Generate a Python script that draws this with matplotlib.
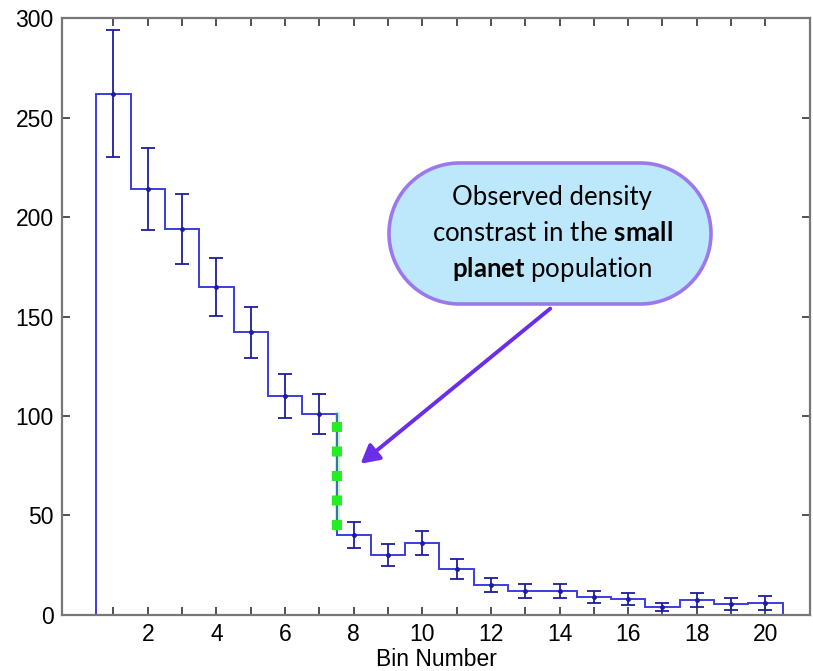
import numpy as np
import matplotlib
matplotlib.use("Agg")
import matplotlib.pyplot as plt
from matplotlib.patches import Polygon
from matplotlib.transforms import IdentityTransform

plt.rcParams['font.family'] = ['Liberation Sans', 'DejaVu Sans']
plt.rcParams['mathtext.fontset'] = 'custom'
plt.rcParams['mathtext.rm'] = 'Lato'
plt.rcParams['mathtext.bf'] = 'Lato:bold'

# counts per bin with their error bars
bins = np.arange(1, 21)
counts = [262, 214, 194, 165, 142, 110, 101, 40, 30, 36,
          23, 15, 12, 12, 9, 8, 4, 7.5, 5.5, 6]
errors = [32, 20.5, 17.5, 14.5, 13, 11, 10, 6.5, 5.5, 6,
          5, 3.7, 3.5, 3.4, 3, 2.8, 2, 3.3, 3, 3.5]
xticks = [2, 4, 6, 8, 10, 12, 14, 16, 18, 20]
yticks = [0, 50, 100, 150, 200, 250, 300]

fig = plt.figure(figsize=(8.13, 6.71), dpi=100)
ax = fig.add_axes([0.0763, 0.0835, 0.92, 0.8895])

edges = np.concatenate([[-0.5], np.arange(0.5, 21.5, 1.0)])
ax.stairs([0] + counts, edges, color='#3c3ce0', lw=1.4, zorder=2)
ax.errorbar(bins, counts, yerr=errors, fmt='.', color='#1e1e9c',
            ms=5, lw=1.3, capsize=5, capthick=1.3, zorder=3)

# highlight the drop between bin 7 and bin 8
ax.plot([7.5, 7.5], [counts[7] + 3, counts[6]], color='#22ee22', lw=3.5,
        alpha=0.3, zorder=4)
ax.plot([7.5, 7.5], [counts[7] + 2.5, counts[6] - 1], color='#22ee22', lw=7.2,
        linestyle=(0, (1.0, 1.45)), solid_capstyle='butt', zorder=4)

ax.set_xlim(-0.5, 21.3)
ax.set_ylim(0, 300)
ax.set_xticks(xticks)
ax.set_xticks(bins, minor=True)
ax.set_yticks(yticks)
ax.tick_params(which='both', direction='in', top=True, right=True,
               length=6, width=1.2, color='#333333', labelsize=16.5, pad=6)
ax.set_xlabel('Bin Number', fontsize=16.5, labelpad=1)
for s in ax.spines.values():
    s.set_color('#777777')
    s.set_linewidth(1.6)

# pill shaped callout, in pixels
x0, x1, yb, yt = 389, 711, 671 - 304, 671 - 163
r = (yt - yb) / 2
t = np.linspace(-np.pi / 2, np.pi / 2, 60)
right = np.column_stack([x1 - r + r * np.cos(t), yb + r + r * np.sin(t)])
left = np.column_stack([x0 + r - r * np.cos(t), yb + r - r * np.sin(t)])
pill = Polygon(np.vstack([right, left]), closed=True,
               transform=IdentityTransform(), facecolor='#bde8fc',
               edgecolor='#9d78ec', lw=2.6, zorder=5)
fig.add_artist(pill)
fig.text(0.679, 0.705, 'Observed density', ha='center', va='center',
         fontsize=18.5, family='Lato', zorder=6)
fig.text(0.679, 0.652, r'constrast in the $\mathbf{small}$', ha='center',
         va='center', fontsize=18.5, family='Lato', zorder=6)
fig.text(0.679, 0.598, r'$\mathbf{planet}$ population', ha='center',
         va='center', fontsize=18.5, family='Lato', zorder=6)

ax.annotate('', xy=(8.2, 76), xytext=(13.73, 154),
            arrowprops=dict(arrowstyle='-|>,head_length=1.1,head_width=0.6',
                            color='#6a2ee8', lw=2.8, shrinkA=0, shrinkB=0),
            zorder=6)

fig.savefig('out.png', dpi=100)
